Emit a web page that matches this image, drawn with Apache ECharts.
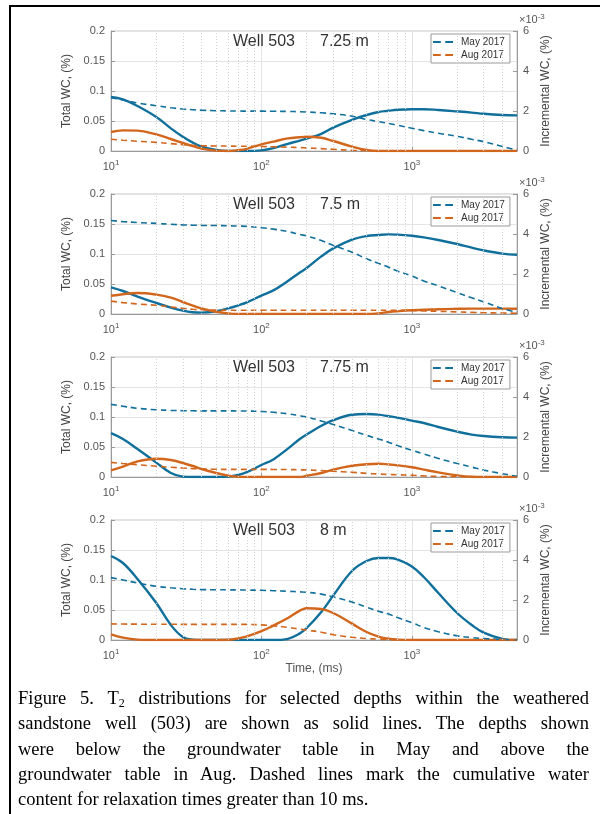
<!DOCTYPE html>
<html>
<head>
<meta charset="utf-8">
<script src="https://cdn.jsdelivr.net/npm/echarts@6/dist/echarts.min.js"></script>
<style>
html,body{margin:0;padding:0;background:#fff;}
#wrap{position:relative;width:600px;height:814px;overflow:hidden;background:#fff;}
#chart{position:absolute;left:0;top:0;width:600px;height:814px;}
#frame{position:absolute;left:9px;top:5px;width:620px;height:830px;border-left:2px solid #000;border-top:2px solid #000;pointer-events:none;}
#cap{position:absolute;left:18px;top:686px;width:571px;font-family:'Liberation Serif','Times New Roman',serif;font-size:18.5px;line-height:25.3px;color:#000;}
#cap div{text-align:justify;text-align-last:justify;white-space:nowrap;}
#cap div.last{text-align:left;text-align-last:left;}
#cap sub{font-size:12px;vertical-align:-3px;line-height:0;}
</style>
</head>
<body>
<div id="wrap">
  <div id="chart"></div>
  <div id="frame"></div>
  <div id="cap">
    <div>Figure 5. T<sub>2</sub> distributions for selected depths within the weathered</div>
    <div>sandstone well (503) are shown as solid lines. The depths shown</div>
    <div>were below the groundwater table in May and above the</div>
    <div>groundwater table in Aug. Dashed lines mark the cumulative water</div>
    <div class="last">content for relaxation times greater than 10 ms.</div>
  </div>
</div>
<script>
// ---------------- DATA ----------------
// relaxation time grid (ms)
const T = [10,12,15,20,25,30,35,40,50,60,70,80,100,120,150,180,200,250,300,400,500,600,700,800,1000,1200,1500,2000,2500,3000,4000,5000];

const wellName = 'Well 503';
const depths = ['7.25 m', '7.5 m', '7.75 m', '8 m'];
const legendNames = ['May 2017', 'Aug 2017'];
const xMin = 10, xMax = 5000;
const leftTicks = {min: 0, max: 0.2, interval: 0.05};
const rightTicks = {min: 0, max: 6, interval: 2};   // x10^-3
const minorGrid = [20,30,40,50,60,70,80,90,200,300,400,500,600,700,800,900,2000,3000,4000];

// incremental WC (solid, units of 1e-3 %), cumulative total WC (dashed, %)
const may725Inc = [2.7,2.58,2.25,1.7,1.13,0.71,0.42,0.22,0.05,0,0,0,0.03,0.14,0.36,0.52,0.62,0.86,1.17,1.56,1.8,1.95,2.01,2.06,2.09,2.09,2.05,1.98,1.92,1.86,1.8,1.78];
const aug725Inc = [0.95,1.03,1.02,0.83,0.6,0.4,0.24,0.12,0.02,0,0.04,0.11,0.33,0.47,0.63,0.69,0.71,0.66,0.5,0.22,0.05,0,0,0,0,0,0,0,0,0,0,0];
const may725Tot = [0.0888,0.085,0.08,0.0755,0.072,0.07,0.0688,0.068,0.0672,0.0668,0.0666,0.0665,0.0664,0.0662,0.066,0.0655,0.065,0.0637,0.062,0.058,0.0525,0.049,0.046,0.043,0.038,0.034,0.0295,0.0245,0.0195,0.0155,0.0075,0.0015];
const aug725Tot = [0.0195,0.018,0.0163,0.0143,0.0123,0.0105,0.0093,0.0088,0.0084,0.0082,0.008,0.0078,0.0074,0.007,0.0064,0.0057,0.0052,0.004,0.0028,0.0012,0.0004,0.0001,0,0,0,0,0,0,0,0,0,0];

const may75Inc = [1.33,1.15,0.87,0.55,0.32,0.17,0.09,0.07,0.14,0.28,0.43,0.58,0.92,1.18,1.65,2.07,2.3,2.88,3.28,3.72,3.9,3.95,3.98,3.97,3.91,3.83,3.7,3.5,3.32,3.18,3.02,2.96];
const aug75Inc = [0.91,0.99,1.05,0.97,0.82,0.6,0.42,0.28,0.11,0.03,0,0,0,0,0,0,0,0,0,0,0,0.03,0.1,0.14,0.19,0.21,0.24,0.26,0.27,0.27,0.27,0.26];
const may75Tot = [0.1558,0.154,0.1525,0.151,0.1495,0.1485,0.148,0.1477,0.1474,0.147,0.1465,0.146,0.1438,0.1415,0.1375,0.1325,0.13,0.1225,0.1145,0.103,0.092,0.0845,0.078,0.0715,0.0635,0.055,0.047,0.0355,0.027,0.0205,0.009,0.003];
const aug75Tot = [0.0215,0.019,0.0168,0.0145,0.0118,0.0095,0.0078,0.007,0.0064,0.0063,0.0063,0.0063,0.0063,0.0063,0.0063,0.0063,0.0063,0.0063,0.0063,0.0063,0.0063,0.0062,0.0062,0.0062,0.0058,0.0052,0.0045,0.0035,0.0027,0.0022,0.0016,0.0013];

const may775Inc = [2.19,1.9,1.4,0.72,0.2,0.02,0,0,0,0.02,0.1,0.24,0.6,0.88,1.42,1.9,2.12,2.56,2.84,3.11,3.15,3.12,3.04,2.97,2.82,2.7,2.5,2.27,2.12,2.05,1.99,1.97];
const aug775Inc = [0.33,0.52,0.78,0.91,0.85,0.7,0.55,0.4,0.2,0.07,0.01,0,0,0,0,0,0.06,0.2,0.37,0.56,0.64,0.66,0.63,0.59,0.49,0.37,0.23,0.08,0.01,0,0,0];
const may775Tot = [0.121,0.118,0.1145,0.112,0.111,0.1105,0.1103,0.1102,0.1102,0.1102,0.1101,0.11,0.1092,0.1078,0.1053,0.102,0.1,0.0935,0.0875,0.0775,0.0695,0.0635,0.058,0.0525,0.0445,0.0385,0.031,0.0225,0.0165,0.0115,0.0055,0.001];
const aug775Tot = [0.0243,0.0225,0.0205,0.018,0.0163,0.015,0.014,0.0133,0.0128,0.0127,0.0127,0.0127,0.0127,0.0126,0.0124,0.012,0.0116,0.0108,0.0096,0.0079,0.0061,0.005,0.0043,0.0037,0.0028,0.0018,0.001,0.0003,0,0,0,0];

const may8Inc = [4.2,3.85,3.05,1.85,0.75,0.15,0.02,0,0,0,0,0,0,0,0.06,0.33,0.6,1.4,2.22,3.45,3.95,4.1,4.1,4.03,3.68,3.15,2.35,1.35,0.75,0.37,0.06,0];
const aug8Inc = [0.28,0.12,0.02,0,0,0,0,0,0,0.01,0.08,0.18,0.44,0.72,1.1,1.47,1.59,1.55,1.35,0.82,0.4,0.17,0.06,0.02,0,0,0,0,0,0,0,0];
const may8Tot = [0.104,0.1,0.095,0.0895,0.087,0.0855,0.0845,0.084,0.0838,0.0836,0.0835,0.0833,0.0828,0.0822,0.0813,0.0802,0.0795,0.0765,0.0718,0.0632,0.0548,0.048,0.0432,0.0375,0.029,0.0208,0.0138,0.0069,0.004,0.0025,0.0007,0];
const aug8Tot = [0.0268,0.0266,0.0264,0.0262,0.0262,0.0261,0.0261,0.0261,0.0261,0.026,0.026,0.026,0.0252,0.0238,0.021,0.0182,0.0165,0.013,0.0088,0.0045,0.0025,0.0014,0.0008,0.0004,0.0001,0,0,0,0,0,0,0];

const panels = [
  {depth: depths[0], mayInc: may725Inc, augInc: aug725Inc, mayTot: may725Tot, augTot: aug725Tot},
  {depth: depths[1], mayInc: may75Inc,  augInc: aug75Inc,  mayTot: may75Tot,  augTot: aug75Tot},
  {depth: depths[2], mayInc: may775Inc, augInc: aug775Inc, mayTot: may775Tot, augTot: aug775Tot},
  {depth: depths[3], mayInc: may8Inc,   augInc: aug8Inc,   mayTot: may8Tot,   augTot: aug8Tot}
];

// ---------------- STYLE / LAYOUT ----------------
const FONT = "'Liberation Sans', Arial, Helvetica, sans-serif";
const BLUE = '#11709b';
const ORANGE = '#d2661c';
const AXIS = '#9a9a9a';
const LABEL = '#555555';
const TOPS = [31, 194, 357, 520];
const GRID_LEFT = 111, GRID_W = 406, GRID_H = 120;
const DASH_ICON = 'path://M0,0h7v1.6h-7zM11,0h7v1.6h-7z';

const pair = arr => T.map((t, k) => [t, arr[k]]);

const grid = [], xAxis = [], yAxis = [], series = [], legend = [], title = [];

panels.forEach((p, i) => {
  grid.push({left: GRID_LEFT, top: TOPS[i], width: GRID_W, height: GRID_H,
    show: true, borderColor: '#c4c4c4', borderWidth: 1, backgroundColor: '#fff', containLabel: false});

  xAxis.push({
    type: 'log', logBase: 10, min: xMin, max: xMax, gridIndex: i,
    axisLine: {show: true, onZero: false, lineStyle: {color: AXIS, width: 1}},
    axisTick: {show: true, inside: true, length: 4, lineStyle: {color: AXIS}},
    splitLine: {show: true, lineStyle: {color: '#e4e4e4', width: 1}},
    axisLabel: {
      margin: 8, color: LABEL, fontSize: 11, fontFamily: FONT,
      formatter: v => {
        const e = Math.log10(v);
        if (Math.abs(e - Math.round(e)) > 1e-6) return '';
        return '{b|10}{s|' + Math.round(e) + '}';
      },
      rich: {b: {fontSize: 11, color: LABEL, fontFamily: FONT},
             s: {fontSize: 8, color: LABEL, fontFamily: FONT, padding: [0, 0, 7, 0]}}
    },
    name: i === 3 ? 'Time, (ms)' : '', nameLocation: 'middle', nameGap: 23,
    nameTextStyle: {fontSize: 12, color: LABEL, fontFamily: FONT}
  });

  yAxis.push({
    type: 'value', gridIndex: i, position: 'left',
    min: leftTicks.min, max: leftTicks.max, interval: leftTicks.interval,
    axisLine: {show: true, lineStyle: {color: AXIS}},
    axisTick: {show: true, inside: true, length: 4, lineStyle: {color: AXIS}},
    splitLine: {show: true, lineStyle: {color: '#e4e4e4'}},
    axisLabel: {fontSize: 11, color: LABEL, margin: 6, fontFamily: FONT},
    name: 'Total WC, (%)', nameLocation: 'middle', nameRotate: 90, nameGap: 25,
    nameTextStyle: {fontSize: 12, color: '#444', fontFamily: FONT}
  });
  yAxis.push({
    type: 'value', gridIndex: i, position: 'right',
    min: rightTicks.min, max: rightTicks.max, interval: rightTicks.interval,
    axisLine: {show: true, lineStyle: {color: AXIS}},
    axisTick: {show: true, inside: true, length: 4, lineStyle: {color: AXIS}},
    splitLine: {show: false},
    axisLabel: {fontSize: 11, color: LABEL, margin: 6, fontFamily: FONT},
    name: 'Incremental WC, (%)', nameLocation: 'middle', nameRotate: 90, nameGap: 12,
    nameTextStyle: {fontSize: 12, color: '#444', fontFamily: FONT}
  });

  // minor (dotted) vertical grid lines
  series.push({
    name: 'minor-grid-' + i, type: 'line', xAxisIndex: i, yAxisIndex: 2 * i, data: [],
    silent: true, z: 1,
    markLine: {silent: true, symbol: 'none', label: {show: false}, animation: false,
      lineStyle: {type: [1, 2], color: '#d2d2d2', width: 1},
      data: minorGrid.map(v => ({xAxis: v}))}
  });

  const common = {type: 'line', xAxisIndex: i, smooth: 0.4, symbol: 'none', showSymbol: false, z: 3};
  series.push(Object.assign({}, common, {name: 'May 2017 T2', yAxisIndex: 2 * i + 1, data: pair(p.mayInc),
    lineStyle: {color: BLUE, width: 2.4}, itemStyle: {color: BLUE}}));
  series.push(Object.assign({}, common, {name: 'Aug 2017 T2', yAxisIndex: 2 * i + 1, data: pair(p.augInc),
    lineStyle: {color: ORANGE, width: 2.4}, itemStyle: {color: ORANGE}}));
  series.push(Object.assign({}, common, {name: legendNames[0], yAxisIndex: 2 * i, data: pair(p.mayTot),
    lineStyle: {color: BLUE, width: 1.6, type: [6, 4]}, itemStyle: {color: BLUE}}));
  series.push(Object.assign({}, common, {name: legendNames[1], yAxisIndex: 2 * i, data: pair(p.augTot),
    lineStyle: {color: ORANGE, width: 1.6, type: [6, 4]}, itemStyle: {color: ORANGE}}));

  legend.push({
    data: legendNames.map(n => ({name: n, icon: DASH_ICON})),
    orient: 'vertical', left: 431, top: TOPS[i] + 3,
    itemWidth: 20, itemHeight: 10, itemGap: 3, padding: [3, 5, 3, 2],
    backgroundColor: '#fff', borderColor: '#9a9a9a', borderWidth: 1, borderRadius: 0,
    selectedMode: false,
    textStyle: {fontSize: 10, color: '#333', fontFamily: FONT, padding: [0, 0, 0, 3]}
  });

  title.push({text: wellName, left: 233, top: TOPS[i] + 3, padding: 0,
    textStyle: {fontSize: 16, fontWeight: 'normal', color: '#333', fontFamily: FONT}});
  title.push({text: p.depth, left: 320, top: TOPS[i] + 3, padding: 0,
    textStyle: {fontSize: 16, fontWeight: 'normal', color: '#333', fontFamily: FONT}});
  title.push({text: '{a|×10}{b|-3}', left: 519, top: TOPS[i] - 18, padding: 0,
    textStyle: {fontWeight: 'normal', rich: {
      a: {fontSize: 11, fontWeight: 'normal', color: LABEL, fontFamily: FONT},
      b: {fontSize: 8, fontWeight: 'normal', color: LABEL, fontFamily: FONT, padding: [0, 0, 6, 0]}}}});
});

const chart = echarts.init(document.getElementById('chart'), null, {renderer: 'canvas'});
chart.setOption({
  animation: false,
  backgroundColor: 'transparent',
  textStyle: {fontFamily: FONT},
  title, grid, xAxis, yAxis, series, legend
});
</script>
</body>
</html>
